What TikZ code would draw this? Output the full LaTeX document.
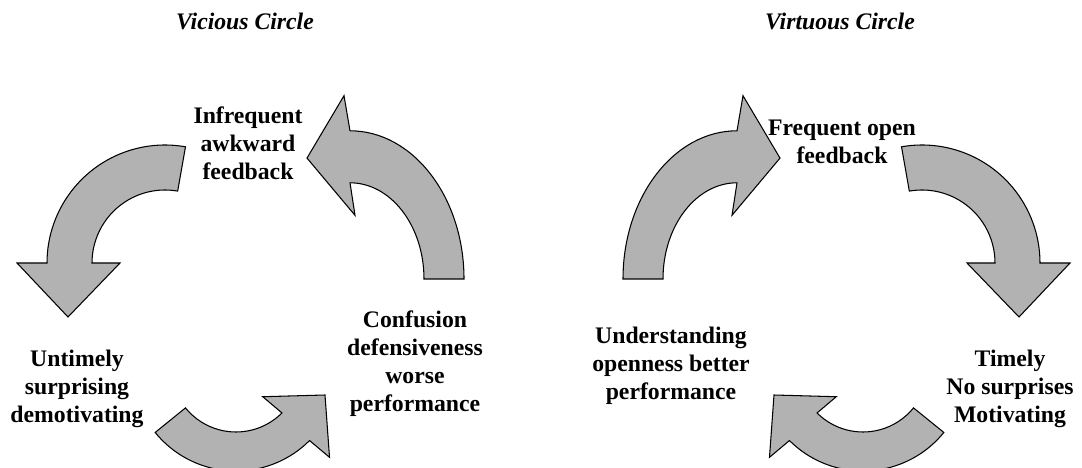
\documentclass[tikz,border=0pt]{standalone}
\usepackage{fontspec}
\setmainfont{Liberation Serif}
\usepackage{tikz}

\tikzset{
  looparrow/.style={fill=black!30,draw=black,line width=0.6pt},
  looptext/.style={font=\bfseries\fontsize{13.5}{16}\selectfont,align=center,inner sep=0pt},
  looptitle/.style={font=\bfseries\itshape\fontsize{13.5}{16}\selectfont,inner sep=0pt,anchor=base}
}

\begin{document}
\begin{tikzpicture}[x=0.02cm,y=0.02cm]
\useasboundingbox (0,0) rectangle (1082,467);
\clip (0,0) rectangle (1082,467);

\node[looptitle] (vicious) at (245,437) {Vicious Circle};
\node[looptitle] (virtuous) at (840,437) {Virtuous Circle};

\node[looptext] (infrequent) at (248,324) {Infrequent\\awkward\\feedback};
\node[looptext] (confusion) at (415,103) {Confusion\\defensiveness\\worse\\performance};
\node[looptext] (untimely) at (77,78) {Untimely\\surprising\\demotivating};

\node[looptext] (frequent) at (842,325) {Frequent open\\feedback};
\node[looptext] (timely) at (1010,78) {Timely\\No surprises\\Motivating};
\node[looptext] (understanding) at (671,101) {Understanding\\openness better\\performance};

\begin{scope}[shift={(165,204)}]
\filldraw[looparrow] (80:118) arc[start angle=80,end angle=180,radius=118] -- (-148,0) -- (-97,-54) -- (-45,0) -- (180:73) arc[start angle=180,end angle=80,radius=73] -- cycle;
\end{scope}
\begin{scope}[shift={(350,188)},yscale=1.3]
\filldraw[looparrow] (0:114) arc[start angle=0,end angle=90,radius=114] -- (-6,141) -- (-43,93) -- (5,49) -- (90:74) arc[start angle=90,end angle=0,radius=74] -- cycle;
\end{scope}
\begin{scope}[shift={(236,100)}]
\filldraw[looparrow] (219:104) arc[start angle=219,end angle=315,radius=104] -- (316:130) -- (89,-28) -- (312:40) -- (315:65) arc[start angle=315,end angle=219,radius=65] -- cycle;
\end{scope}

\begin{scope}[shift={(922,204)},xscale=-1]
\filldraw[looparrow] (80:118) arc[start angle=80,end angle=180,radius=118] -- (-148,0) -- (-97,-54) -- (-45,0) -- (180:73) arc[start angle=180,end angle=80,radius=73] -- cycle;
\end{scope}
\begin{scope}[shift={(737,188)},xscale=-1,yscale=1.3]
\filldraw[looparrow] (0:114) arc[start angle=0,end angle=90,radius=114] -- (-6,141) -- (-43,93) -- (5,49) -- (90:74) arc[start angle=90,end angle=0,radius=74] -- cycle;
\end{scope}
\begin{scope}[shift={(863,100)},xscale=-1]
\filldraw[looparrow] (219:104) arc[start angle=219,end angle=315,radius=104] -- (316:130) -- (89,-28) -- (312:40) -- (315:65) arc[start angle=315,end angle=219,radius=65] -- cycle;
\end{scope}

\end{tikzpicture}
\end{document}
